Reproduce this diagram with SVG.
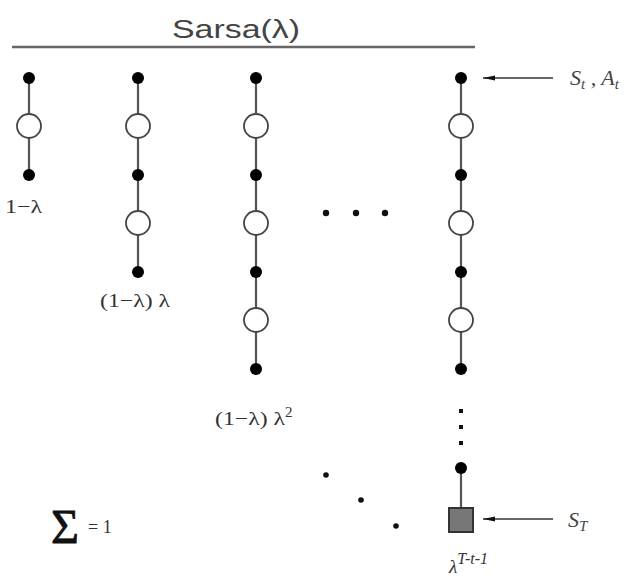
<svg xmlns="http://www.w3.org/2000/svg" width="630" height="579" viewBox="0 0 630 579">
<defs>
<style>
.ln{stroke:#555;stroke-width:2.2;fill:none}
.dot{fill:#000}
.oc{fill:#fff;stroke:#444;stroke-width:1.8}
.lab{font-family:"Liberation Serif",serif;font-size:19px;fill:#333}
.it{font-family:"Liberation Serif",serif;font-style:italic;font-size:22px;fill:#444}
.ell{fill:#111}
</style>
<marker id="ah" markerWidth="12" markerHeight="8" refX="12" refY="4" orient="auto" markerUnits="userSpaceOnUse">
<path d="M0,1.5 L12,4 L0,6.5 Z" fill="#111"/>
</marker>
</defs>
<rect width="630" height="579" fill="#fff"/>
<g id="title">
<text x="172" y="38" font-family="Liberation Sans,sans-serif" font-size="25" fill="#444" textLength="128" lengthAdjust="spacingAndGlyphs">Sarsa(λ)</text>
<line x1="12" y1="47" x2="475" y2="47" stroke="#666" stroke-width="2.5"/>
</g>
<g id="connectors">
<line class="ln" x1="29" y1="78" x2="29" y2="175"/>
<line class="ln" x1="138" y1="78" x2="138" y2="272"/>
<line class="ln" x1="256" y1="78" x2="256" y2="369"/>
<line class="ln" x1="461" y1="78" x2="461" y2="369"/>
<line class="ln" x1="461" y1="468" x2="461" y2="510"/>
<line x1="553" y1="78" x2="483" y2="78" stroke="#333" stroke-width="1.5" marker-end="url(#ah)"/>
<line x1="553" y1="519" x2="483" y2="519" stroke="#333" stroke-width="1.5" marker-end="url(#ah)"/>
</g>
<g id="col1">
<circle class="dot" cx="29" cy="78" r="6"/>
<circle class="oc" cx="29" cy="126" r="12"/>
<circle class="dot" cx="29" cy="175" r="6"/>
<text class="lab" x="5" y="213" textLength="37" lengthAdjust="spacingAndGlyphs">1−λ</text>
</g>
<g id="col2">
<circle class="dot" cx="138" cy="78" r="6"/>
<circle class="oc" cx="138" cy="126" r="12"/>
<circle class="dot" cx="138" cy="175" r="6"/>
<circle class="oc" cx="138" cy="223" r="12"/>
<circle class="dot" cx="138" cy="272" r="6"/>
<text class="lab" x="100" y="307" textLength="70" lengthAdjust="spacingAndGlyphs">(1−λ) λ</text>
</g>
<g id="col3">
<circle class="dot" cx="256" cy="78" r="6"/>
<circle class="oc" cx="256" cy="126" r="12"/>
<circle class="dot" cx="256" cy="175" r="6"/>
<circle class="oc" cx="256" cy="223" r="12"/>
<circle class="dot" cx="256" cy="272" r="6"/>
<circle class="oc" cx="256" cy="320" r="12"/>
<circle class="dot" cx="256" cy="369" r="6"/>
<text class="lab" x="215" y="425"><tspan textLength="70" lengthAdjust="spacingAndGlyphs">(1−λ) λ</tspan><tspan dy="-8" font-size="15">2</tspan></text>
</g>
<g id="col4">
<circle class="dot" cx="461" cy="78" r="6"/>
<circle class="oc" cx="461" cy="126" r="12"/>
<circle class="dot" cx="461" cy="175" r="6"/>
<circle class="oc" cx="461" cy="223" r="12"/>
<circle class="dot" cx="461" cy="272" r="6"/>
<circle class="oc" cx="461" cy="320" r="12"/>
<circle class="dot" cx="461" cy="369" r="6"/>
<rect class="ell" x="459" y="409" width="4" height="4"/>
<rect class="ell" x="459" y="425" width="4" height="4"/>
<rect class="ell" x="459" y="441" width="4" height="4"/>
<circle class="dot" cx="461" cy="468" r="6"/>
<rect x="449" y="508" width="24" height="24" fill="#777" stroke="#333" stroke-width="2"/>
<text class="lab" x="449" y="573" font-size="16" font-style="italic">λ<tspan dy="-9" font-size="16">T-t-1</tspan></text>
</g>
<g id="labels">
<text class="it" x="570" y="85">S<tspan dy="4" font-size="15">t</tspan><tspan dy="-4"> , A</tspan><tspan dy="4" font-size="15">t</tspan></text>
<text class="it" x="568" y="527">S<tspan dy="4" font-size="15">T</tspan></text>
</g>
<g id="ellipses">
<circle class="ell" cx="326" cy="213" r="3.2"/>
<circle class="ell" cx="356" cy="213" r="3.2"/>
<circle class="ell" cx="385" cy="213" r="3.2"/>
<circle class="ell" cx="326" cy="475" r="2.8"/>
<circle class="ell" cx="361" cy="500" r="2.8"/>
<circle class="ell" cx="396" cy="526" r="2.8"/>
</g>
<g id="sum">
<text x="51" y="543" font-family="Liberation Serif,serif" font-size="48" fill="#111" stroke="#111" stroke-width="0.8">Σ</text>
<text x="88" y="533" font-family="Liberation Serif,serif" font-size="18" fill="#333">= 1</text>
</g>
</svg>
